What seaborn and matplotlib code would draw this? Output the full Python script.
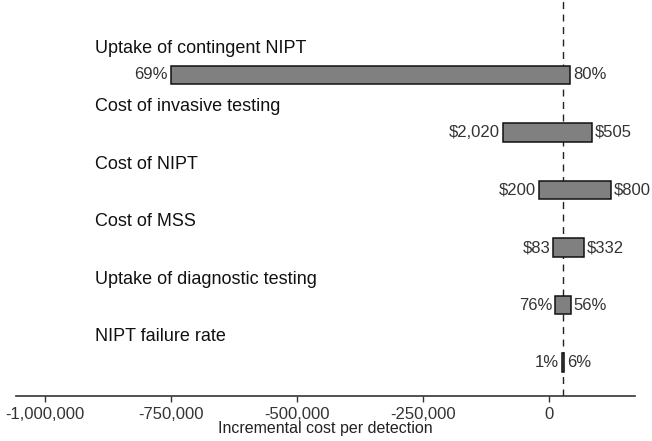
import numpy as np
import pandas as pd
import seaborn as sns
import matplotlib
matplotlib.use("Agg")
import matplotlib.pyplot as plt

params = ["Uptake of contingent NIPT", "Cost of invasive testing", "Cost of NIPT",
          "Cost of MSS", "Uptake of diagnostic testing", "NIPT failure rate"]
low = [-750000, -91000, -20000, 8000, 12000, 26000]
high = [42000, 85000, 123000, 69000, 44000, 31000]
low_labels = ["69%", "$2,020", "$200", "$83", "76%", "1%"]
high_labels = ["80%", "$505", "$800", "$332", "56%", "6%"]
base_value = 28000
xticks = [-1000000, -750000, -500000, -250000, 0]
xtick_labels = ["-1,000,000", "-750,000", "-500,000", "-250,000", "0"]

sns.set_style("white")
plt.rcParams["font.family"] = ["Liberation Sans", "DejaVu Sans"]

df = pd.DataFrame({"param": params, "low": low, "high": high})
df["width"] = df["high"] - df["low"]

fig = plt.figure(figsize=(6.52, 4.41), dpi=100)
ax = fig.add_axes([16 / 652, 1 - 396 / 441, (635 - 16) / 652, 396 / 441])

sns.barplot(data=df, x="width", y="param", orient="h", order=params,
            color="#808080", saturation=1, edgecolor="#111111", linewidth=1.1,
            width=0.32, ax=ax)

# shift each bar so it spans low..high
for patch, lo in zip(ax.patches, df["low"]):
    patch.set_x(lo)

for i, (lo, hi) in enumerate(zip(df["low"], df["high"])):
    ax.annotate(low_labels[i], (lo, i), xytext=(-2, 0), textcoords="offset points",
                ha="right", va="center", fontsize=12, color="#333333")
    ax.annotate(high_labels[i], (hi, i), xytext=(2, 0), textcoords="offset points",
                ha="left", va="center", fontsize=12, color="#333333")
    ax.text(-900000, i - 0.45, params[i], ha="left", va="center", fontsize=13,
            color="#111111")

ax.axvline(base_value, color="#222222", linestyle=(0, (5, 4)), linewidth=1, zorder=0)

ax.set_xlim(-1057000, 171000)
ax.set_ylim(5.58, -1.3)
ax.set_yticks([])
ax.set_ylabel("")
ax.set_xticks(xticks)
ax.set_xticklabels(xtick_labels, fontsize=12, color="#333333")
ax.set_xlabel("Incremental cost per detection", fontsize=11.5, labelpad=-1, color="#222222")
ax.tick_params(axis="x", direction="out", length=4, width=1, color="#333333", pad=4,
               bottom=True)

for s in ["top", "right", "left"]:
    ax.spines[s].set_visible(False)
ax.spines["bottom"].set_color("#333333")
ax.spines["bottom"].set_linewidth(1.2)

fig.savefig("out.png", dpi=100)
